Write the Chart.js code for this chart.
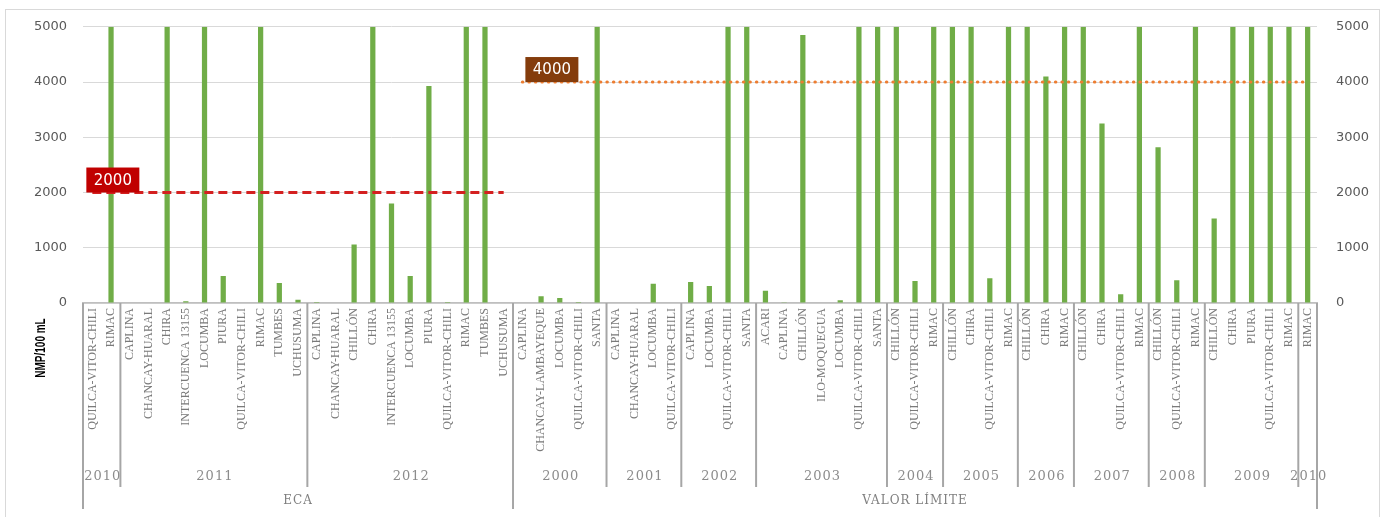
<!DOCTYPE html>
<html lang="es">
<head>
<meta charset="utf-8">
<title>NMP/100 mL por cuenca y año</title>
<script src="https://cdn.jsdelivr.net/npm/chart.js@4.4.1/dist/chart.umd.min.js"></script>
<style>
  html, body { margin: 0; padding: 0; background: #fff; }
  #wrap { position: relative; width: 1382px; height: 517px; }
</style>
</head>
<body>
<div id="wrap"><canvas id="chart"></canvas></div>
<script>
// cuencas, en el orden grupo -> año -> cuenca
const cuencas = [
  // ECA 2010
  'QUILCA-VITOR-CHILI', 'RIMAC',
  // ECA 2011
  'CAPLINA', 'CHANCAY-HUARAL', 'CHIRA', 'INTERCUENCA 13155', 'LOCUMBA', 'PIURA',
  'QUILCA-VITOR-CHILI', 'RIMAC', 'TUMBES', 'UCHUSUMA',
  // ECA 2012
  'CAPLINA', 'CHANCAY-HUARAL', 'CHILLÓN', 'CHIRA', 'INTERCUENCA 13155', 'LOCUMBA', 'PIURA',
  'QUILCA-VITOR-CHILI', 'RIMAC', 'TUMBES', 'UCHUSUMA',
  // VALOR LÍMITE 2000
  'CAPLINA', 'CHANCAY-LAMBAYEQUE', 'LOCUMBA', 'QUILCA-VITOR-CHILI', 'SANTA',
  // 2001
  'CAPLINA', 'CHANCAY-HUARAL', 'LOCUMBA', 'QUILCA-VITOR-CHILI',
  // 2002
  'CAPLINA', 'LOCUMBA', 'QUILCA-VITOR-CHILI', 'SANTA',
  // 2003
  'ACARI', 'CAPLINA', 'CHILLÓN', 'ILO-MOQUEGUA', 'LOCUMBA', 'QUILCA-VITOR-CHILI', 'SANTA',
  // 2004
  'CHILLÓN', 'QUILCA-VITOR-CHILI', 'RIMAC',
  // 2005
  'CHILLÓN', 'CHIRA', 'QUILCA-VITOR-CHILI', 'RIMAC',
  // 2006
  'CHILLÓN', 'CHIRA', 'RIMAC',
  // 2007
  'CHILLÓN', 'CHIRA', 'QUILCA-VITOR-CHILI', 'RIMAC',
  // 2008
  'CHILLÓN', 'QUILCA-VITOR-CHILI', 'RIMAC',
  // 2009
  'CHILLÓN', 'CHIRA', 'PIURA', 'QUILCA-VITOR-CHILI', 'RIMAC',
  // 2010
  'RIMAC'
];

// NMP/100 mL (el eje llega a 5000)
const nmp = [
  0, 5000,
  0, 0, 5000, 30, 5000, 490, 0, 5000, 360, 60,
  20, 0, 1060, 5000, 1800, 490, 3930, 20, 5000, 5000, 0,
  0, 120, 90, 20, 5000,
  0, 0, 350, 0,
  380, 310, 5000, 5000,
  220, 15, 4850, 0, 50, 5000, 5000,
  5000, 400, 5000,
  5000, 5000, 450, 5000,
  5000, 4100, 5000,
  5000, 3250, 160, 5000,
  2820, 410, 5000,
  1530, 5000, 5000, 5000, 5000,
  5000
];

const anios = ['2010', '2011', '2012', '2000', '2001', '2002', '2003', '2004', '2005', '2006', '2007', '2008', '2009', '2010'];
const aniosN = [2, 10, 11, 5, 4, 4, 7, 3, 4, 3, 4, 3, 5, 1];

const grupos = ['ECA', 'VALOR LÍMITE'];
const gruposN = [23, 43];
const limites = [2000, 4000];

const yTicks = [0, 1000, 2000, 3000, 4000, 5000];

// una serie de límite por grupo, solo sobre sus cuencas
let desde = 0;
const limiteData = grupos.map((g, gi) => {
  const ini = desde;
  desde += gruposN[gi];
  return cuencas.map((c, i) => (i >= ini && i < desde) ? limites[gi] : null);
});

const GRIS = '#a6a6a6';

const ejeAgrupado = {
  id: 'ejeAgrupado',
  afterDraw(chart) {
    const { ctx, chartArea, scales: { x } } = chart;
    const w = x.getPixelForValue(1) - x.getPixelForValue(0);
    const borde = k => (k < cuencas.length ? x.getPixelForValue(k) - w / 2 : x.getPixelForValue(k - 1) + w / 2);
    const base = chartArea.bottom;

    // limites de los grupos (incluye los extremos)
    const cortesGrupo = [0];
    gruposN.forEach(n => cortesGrupo.push(cortesGrupo[cortesGrupo.length - 1] + n));

    ctx.save();
    ctx.strokeStyle = GRIS;
    ctx.lineWidth = 2;

    // separadores de año
    let k = 0;
    aniosN.forEach((n, ai) => {
      const a = borde(k), b = borde(k + n);
      if (!cortesGrupo.includes(k)) {
        ctx.beginPath(); ctx.moveTo(a, base); ctx.lineTo(a, base + 184); ctx.stroke();
      }
      ctx.font = '13px "DejaVu Serif"';
      ctx.letterSpacing = '1px';
      ctx.fillStyle = '#8c8c8c';
      ctx.textAlign = 'center';
      ctx.textBaseline = 'middle';
      ctx.fillText(anios[ai], (a + b) / 2 + 1, base + 174);
      k += n;
    });

    // separadores y nombres de grupo
    cortesGrupo.forEach(c => {
      const a = borde(c);
      ctx.beginPath(); ctx.moveTo(a, base); ctx.lineTo(a, base + 206); ctx.stroke();
    });
    grupos.forEach((g, gi) => {
      const a = borde(cortesGrupo[gi]), b = borde(cortesGrupo[gi + 1]);
      ctx.font = '12px "DejaVu Serif"';
      ctx.letterSpacing = '1px';
      ctx.fillStyle = '#7f7f7f';
      ctx.textAlign = 'center';
      ctx.fillText(g, (a + b) / 2, base + 198);
    });
    ctx.restore();
  }
};

const etiquetasLimite = {
  id: 'etiquetasLimite',
  afterDatasetsDraw(chart) {
    const { ctx } = chart;
    const fondos = ['#c00000', '#843c0c'];
    const desplaz = [-6, 3];
    ctx.save();
    [1, 2].forEach((di, n) => {
      const ds = chart.data.datasets[di];
      const i = ds.data.findIndex(v => v !== null);
      const p = chart.getDatasetMeta(di).data[i];
      const bw = 53, bh = 25;
      const left = p.x + desplaz[n], top = p.y - bh;
      ctx.fillStyle = fondos[n];
      ctx.fillRect(left, top, bw, bh);
      ctx.fillStyle = '#ffffff';
      ctx.font = '15px "DejaVu Sans"';
      ctx.textAlign = 'center';
      ctx.textBaseline = 'middle';
      ctx.fillText(String(ds.data[i]), left + bw / 2, top + bh / 2 + 1);
    });
    ctx.restore();
  }
};

const marco = {
  id: 'marco',
  afterDraw(chart) {
    const { ctx } = chart;
    ctx.save();
    ctx.strokeStyle = '#d9d9d9';
    ctx.lineWidth = 1;
    ctx.strokeRect(5.5, 9.5, chart.width - 8, chart.height - 9);

    // título del eje vertical
    ctx.translate(41, chart.chartArea.bottom + 45);
    ctx.rotate(-Math.PI / 2);
    ctx.scale(1, 1.4);
    ctx.font = 'bold 10px "Liberation Sans"';
    ctx.fillStyle = '#000000';
    ctx.textAlign = 'center';
    ctx.textBaseline = 'middle';
    ctx.fillText('NMP/100 mL', 0, 0);
    ctx.restore();
  }
};

const tickFont = { family: '"DejaVu Sans"', size: 13 };
const sinSeparador = v => String(v);

new Chart(document.getElementById('chart'), {
  data: {
    labels: cuencas,
    datasets: [
      {
        type: 'bar',
        label: 'NMP/100 mL',
        data: nmp,
        backgroundColor: '#70ad47',
        barPercentage: 0.28,
        categoryPercentage: 1,
        yAxisID: 'y',
        order: 2
      },
      {
        type: 'line',
        label: grupos[0],
        data: limiteData[0],
        borderColor: '#d42020',
        borderWidth: 3,
        borderDash: [9, 5],
        pointRadius: 0,
        yAxisID: 'y',
        order: 1
      },
      {
        type: 'line',
        label: grupos[1],
        data: limiteData[1],
        borderColor: '#ed7d31',
        borderWidth: 3,
        borderDash: [0.5, 6],
        borderCapStyle: 'round',
        pointRadius: 0,
        yAxisID: 'y',
        order: 0
      }
    ]
  },
  options: {
    responsive: true,
    maintainAspectRatio: false,
    animation: false,
    layout: { padding: { top: 26, left: 0, right: 0, bottom: 0 } },
    plugins: {
      legend: { display: false },
      tooltip: { enabled: false }
    },
    scales: {
      x: {
        type: 'category',
        grid: { display: false, drawTicks: false },
        border: { display: true, color: '#bfbfbf', width: 1.5 },
        ticks: {
          autoSkip: false,
          maxRotation: 90,
          minRotation: 90,
          padding: 5,
          color: '#7a7a7a',
          font: { family: '"Liberation Serif"', size: 12 }
        },
        afterFit(scale) { scale.height = 214; }
      },
      y: {
        position: 'left',
        min: 0,
        max: 5000,
        afterBuildTicks(scale) { scale.ticks = yTicks.map(v => ({ value: v })); },
        grid: { color: '#d9d9d9', drawTicks: false },
        border: { display: false },
        ticks: { color: '#595959', font: tickFont, padding: 16, callback: sinSeparador },
        afterFit(scale) { scale.width = 83; }
      },
      y2: {
        position: 'right',
        min: 0,
        max: 5000,
        afterBuildTicks(scale) { scale.ticks = yTicks.map(v => ({ value: v })); },
        grid: { display: false, drawTicks: false },
        border: { display: false },
        ticks: { color: '#595959', font: tickFont, padding: 19, callback: sinSeparador },
        afterFit(scale) { scale.width = 65; }
      }
    }
  },
  plugins: [ejeAgrupado, etiquetasLimite, marco]
});
</script>
</body>
</html>
